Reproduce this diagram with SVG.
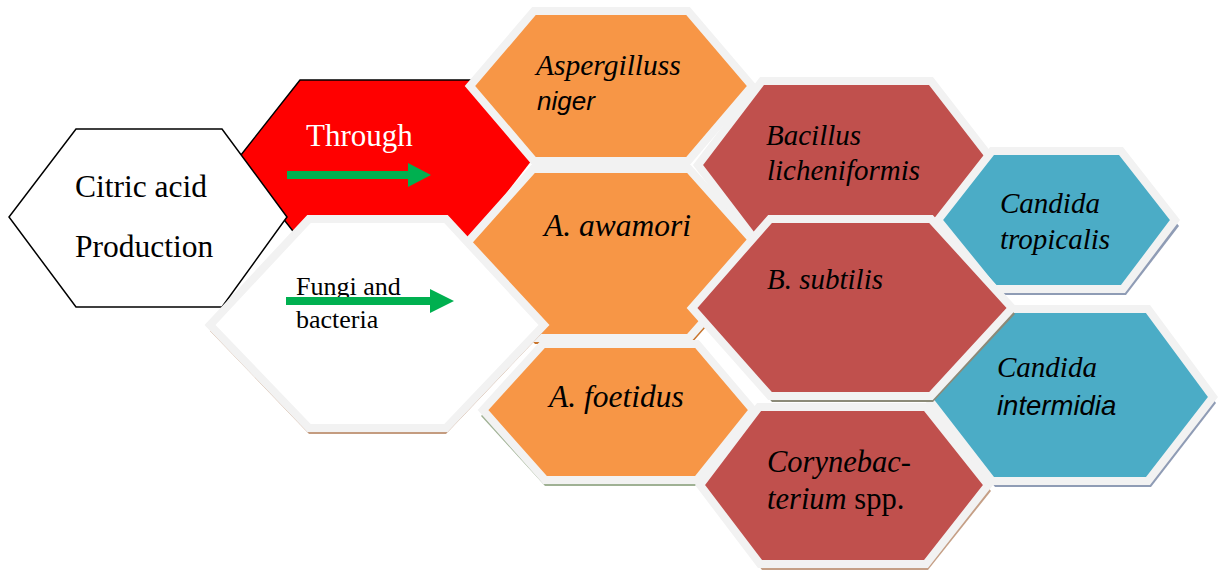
<svg xmlns="http://www.w3.org/2000/svg" width="1219" height="572" viewBox="0 0 1219 572">
<style>
.bd{stroke:#f2f2f2;stroke-width:8;stroke-linejoin:miter}
.or{fill:#f79646}
.rd{fill:#c0504d}
.tl{fill:#4bacc6}
.wh{fill:#ffffff}
.t{font-family:"Liberation Serif","Times New Roman",serif;fill:#000}
.it{font-family:"Liberation Serif","Times New Roman",serif;font-style:italic;font-size:29px;fill:#000}
.si{font-family:"Liberation Sans",Arial,sans-serif;font-style:italic;font-size:26px;fill:#000}
.ar{fill:#00b050}
</style>
<rect width="1219" height="572" fill="#ffffff"/>
<g id="node-through">
<polygon points="300,80 470,80 532,160 470,240 300,240 237,160" fill="#ff0000"/>
<polyline points="300,240 237,160 300,80 530,80" fill="none" stroke="#000" stroke-width="1.5"/>
<text class="t" x="306" y="146" font-size="31" style="fill:#ffffff">Through</text>
</g>
<g id="node-citric">
<polygon points="76,129 222,129 287,217 222,307 76,307 9,217" fill="#ffffff" stroke="#000" stroke-width="1.5"/>
<text class="t" x="75" y="197" font-size="31.5">Citric acid</text>
<text class="t" x="75" y="257" font-size="31.5">Production</text>
</g>
<g id="node-aspergillus">
<polygon class="or bd" points="534,11 688,11 752,86 688,161 534,161 470,86"/>
<text class="it" x="536" y="75" style="font-size:29.5px">Aspergilluss</text>
<text class="si" x="537" y="110">niger</text>
</g>
<g id="node-awamori">
<polygon points="535,175 691,175 766,259 691,344 535,344 460,259" fill="#c8742c"/>
<polygon class="or bd" points="533,169 689,169 764,253 689,338 533,338 458,253"/>
<text class="it" x="544" y="236" style="font-size:31.5px">A. awamori</text>
</g>
<g id="node-fungi">
<polygon points="309,225 446,225 544,331 446,434 309,434 210,331" fill="#c49c80"/>
<polygon class="wh bd" points="309,219 446,219 544,325 446,428 309,428 210,325"/>
<text class="t" x="296" y="295" font-size="26">Fungi and</text>
<text class="t" x="296" y="328" font-size="26">bacteria</text>
</g>
<g id="node-foetidus">
<polygon points="543,350 697,350 753,416 697,486 545,486 481,416" fill="#9fb194"/>
<polygon class="or bd" points="543,344 697,344 753,410 697,480 545,480 483,410"/>
<text class="it" x="549" y="407" style="font-size:31.5px">A. foetidus</text>
</g>
<g id="node-bacillus">
<polygon class="rd bd" points="762,81 931,81 996,165 931,249 762,249 698,165"/>
<text class="it" x="766" y="145">Bacillus</text>
<text class="it" x="767" y="180">licheniformis</text>
</g>
<g id="node-tropicalis">
<polygon points="995,157 1124,157 1179,226 1126,295 997,295 941,226" fill="#8f9cb5"/>
<polygon class="tl bd" points="992,151 1121,151 1175,220 1123,289 994,289 938,220"/>
<text class="it" x="1000" y="213">Candida</text>
<text class="it" x="1000" y="249">tropicalis</text>
</g>
<g id="node-corynebacterium">
<polygon points="761,413 928,413 991,491 928,570 762,570 702,491" fill="#c59f86"/>
<polygon class="rd bd" points="759,407 926,407 988,485 926,564 760,564 700,485"/>
<text class="it" x="767" y="472" style="font-size:30.5px">Corynebac-</text>
<text class="it" x="767" y="509" style="font-size:30.5px">terium<tspan style="font-style:normal"> spp.</tspan></text>
</g>
<g id="node-intermidia">
<polygon points="995,315 1151,315 1216,403 1151,487 995,487 930,403" fill="#8f9cb5"/>
<polygon class="tl bd" points="992,309 1148,309 1213,397 1148,481 992,481 927,397"/>
<text class="it" x="997" y="377">Candida</text>
<text class="si" x="997" y="415" style="font-size:27.5px">intermidia</text>
</g>
<g id="node-subtilis">
<polygon points="772,225 933,225 1015,314 933,402 772,402 694,314" fill="#8c8a78"/>
<polygon class="rd bd" points="770,219 931,219 1012,308 931,396 770,396 692,308"/>
<text class="it" x="767" y="289">B. subtilis</text>
</g>
<g id="connectors">
<polygon class="ar" points="287,171 408,171 408,163 431,175 408,187 408,179 287,179"/>
<polygon class="ar" points="286,297 430,297 430,289 454,301 430,313 430,305 286,305"/>
</g>
</svg>
